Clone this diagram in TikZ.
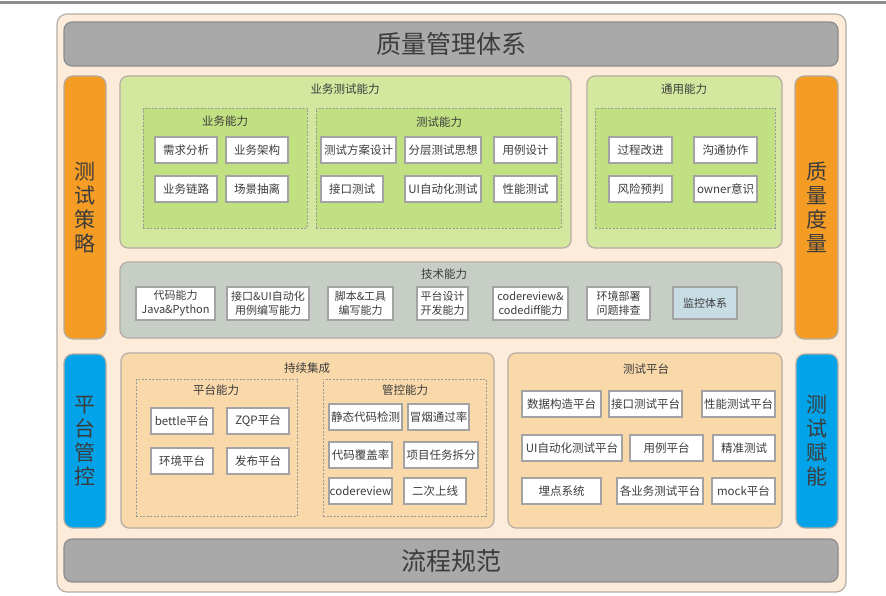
\documentclass[tikz,border=0pt]{standalone}
\usepackage{fontspec}
\setmainfont{Noto Sans CJK SC}
\definecolor{outerfill}{HTML}{FDECD9}
\definecolor{outerline}{HTML}{B5ADA5}
\definecolor{barfill}{HTML}{A9A9A9}
\definecolor{barline}{HTML}{8C8C8C}
\definecolor{orangefill}{HTML}{F49C24}
\definecolor{bluefill}{HTML}{02A3E8}
\definecolor{greenA}{HTML}{D3E79F}
\definecolor{greenB}{HTML}{C1E082}
\definecolor{techfill}{HTML}{C7CEC6}
\definecolor{peachfill}{HTML}{F9D8AA}
\definecolor{monfill}{HTML}{C8DCE3}
\definecolor{txt}{HTML}{3C3C3C}
\definecolor{boxline}{HTML}{A3A3A3}
\newcommand\mybox[7]{\node[#1, minimum width={#5-#3}, minimum height={#6-#4}] (#2) at ({(#3+#5)/2},{(#4+#6)/2}) {#7};}
\tikzset{
  base/.style={inner sep=0pt, outer sep=0pt, text=txt},
  outerbox/.style={base, draw=outerline, fill=outerfill, line width=1.2pt, rounded corners=10pt},
  graybar/.style={base, draw=barline, fill=barfill, line width=1.2pt, rounded corners=8pt, font=\fontsize{25}{28}\selectfont},
  sidebar/.style={base, line width=1.2pt, rounded corners=9pt, align=center, font=\fontsize{21}{24}\selectfont},
  orangebar/.style={sidebar, draw=outerline, fill=orangefill},
  bluebar/.style={sidebar, draw=outerline, fill=bluefill},
  cont/.style={base, draw=outerline, line width=1.2pt, rounded corners=8pt},
  grp/.style={base, draw=gray!80, dash pattern=on 2pt off 1.5pt, line width=0.8pt},
  ttl/.style={base, font=\fontsize{11.5}{13}\selectfont},
  bx/.style={base, draw=boxline, fill=white, line width=1.3pt, align=center, font=\fontsize{11.5}{14}\selectfont},
  tbx/.style={bx, font=\fontsize{11}{14}\selectfont},
}
\begin{document}
\begin{tikzpicture}[x=1pt,y=-1pt]
\useasboundingbox (0,0) rectangle (886,596);
\draw[line width=3pt, color=barline] (0,3) -- (886,3);
% outer
\mybox{outerbox}{outer}{57}{14}{846}{592}{}
\mybox{graybar}{top}{64}{22}{838}{66}{质量管理体系}
\mybox{graybar}{bottom}{64}{539}{838}{582}{流程规范}
\mybox{orangebar}{clsl}{64}{76}{106}{339}{测\\试\\策\\略}
\mybox{orangebar}{zldl}{795}{76}{838}{339}{质\\量\\度\\量}
\mybox{bluebar}{ptgk}{64}{354}{106}{528}{平\\台\\管\\控}
\mybox{bluebar}{csfn}{796}{354}{838}{528}{测\\试\\赋\\能}
% business testing
\mybox{cont, fill=greenA}{ywcs}{120}{76}{571}{248}{}
\node[ttl] (ywcsT) at (345,89) {业务测试能力};
\mybox{grp, fill=greenB}{ywnl}{143}{108}{307}{228}{}
\node[ttl] (ywnlT) at (225,121) {业务能力};
\mybox{bx}{b1}{155}{137}{217}{163}{需求分析}
\mybox{bx}{b2}{226}{137}{288}{163}{业务架构}
\mybox{bx}{b3}{155}{176}{217}{202}{业务链路}
\mybox{bx}{b4}{226}{176}{288}{202}{场景抽离}
\mybox{grp, fill=greenB}{csnl}{316}{108}{561}{228}{}
\node[ttl] (csnlT) at (439,122) {测试能力};
\mybox{bx}{c1}{321}{137}{396}{163}{测试方案设计}
\mybox{bx}{c2}{405}{137}{481}{163}{分层测试思想}
\mybox{bx}{c3}{494}{137}{557}{163}{用例设计}
\mybox{bx}{c4}{321}{176}{383}{202}{接口测试}
\mybox{bx}{c5}{405}{176}{481}{202}{UI自动化测试}
\mybox{bx}{c6}{494}{176}{557}{202}{性能测试}
% general
\mybox{cont, fill=greenA}{tynl}{587}{76}{782}{248}{}
\node[ttl] (tynlT) at (684,89) {通用能力};
\mybox{grp, fill=greenB}{tyg}{595}{108}{775}{228}{}
\mybox{bx}{g1}{609}{137}{672}{163}{过程改进}
\mybox{bx}{g2}{694}{137}{757}{163}{沟通协作}
\mybox{bx}{g3}{609}{176}{672}{202}{风险预判}
\mybox{bx}{g4}{694}{176}{757}{202}{owner意识}
% tech
\mybox{cont, fill=techfill}{jsnl}{120}{262}{782}{338}{}
\node[ttl] (jsnlT) at (444,274) {技术能力};
\mybox{tbx}{t1}{136}{287}{215}{320}{代码能力\\Java\&Python}
\mybox{tbx}{t2}{227}{287}{309}{320}{接口\&UI自动化\\用例编写能力}
\mybox{tbx}{t3}{328}{287}{393}{320}{脚本\&工具\\编写能力}
\mybox{tbx}{t4}{417}{287}{468}{320}{平台设计\\开发能力}
\mybox{tbx}{t5}{493}{287}{568}{320}{codereview\&\\codediff能力}
\mybox{tbx}{t6}{587}{287}{650}{320}{环境部署\\问题排查}
\mybox{tbx, fill=monfill}{t7}{673}{287}{737}{319}{监控体系}
% CI
\mybox{cont, fill=peachfill}{cxjc}{121}{353}{494}{528}{}
\node[ttl] (cxjcT) at (307,368) {持续集成};
\mybox{grp, fill=peachfill}{ptnl}{136}{379}{297}{516}{}
\node[ttl] (ptnlT) at (216,390) {平台能力};
\mybox{bx}{p1}{151}{408}{213}{434}{bettle平台}
\mybox{bx}{p2}{227}{408}{289}{434}{ZQP平台}
\mybox{bx}{p3}{151}{448}{213}{474}{环境平台}
\mybox{bx}{p4}{227}{448}{289}{474}{发布平台}
\mybox{grp, fill=peachfill}{gknl}{323}{379}{486}{516}{}
\node[ttl] (gknlT) at (405,390) {管控能力};
\mybox{bx}{k1}{329}{404}{402}{430}{静态代码检测}
\mybox{bx}{k2}{408}{404}{469}{430}{冒烟通过率}
\mybox{bx}{k3}{329}{442}{392}{468}{代码覆盖率}
\mybox{bx}{k4}{404}{442}{478}{468}{项目任务拆分}
\mybox{bx}{k5}{329}{478}{392}{504}{codereview}
\mybox{bx}{k6}{404}{478}{466}{504}{二次上线}
% test platform
\mybox{cont, fill=peachfill}{cspt}{508}{353}{782}{528}{}
\node[ttl] (csptT) at (646,369) {测试平台};
\mybox{bx}{q1}{522}{391}{601}{417}{数据构造平台}
\mybox{bx}{q2}{609}{391}{682}{417}{接口测试平台}
\mybox{bx}{q3}{702}{391}{775}{417}{性能测试平台}
\mybox{bx}{q4}{522}{435}{622}{461}{UI自动化测试平台}
\mybox{bx}{q5}{630}{435}{703}{461}{用例平台}
\mybox{bx}{q6}{713}{435}{775}{461}{精准测试}
\mybox{bx}{q7}{522}{478}{601}{504}{埋点系统}
\mybox{bx}{q8}{617}{478}{703}{504}{各业务测试平台}
\mybox{bx}{q9}{712}{478}{775}{504}{mock平台}
\end{tikzpicture}
\end{document}
